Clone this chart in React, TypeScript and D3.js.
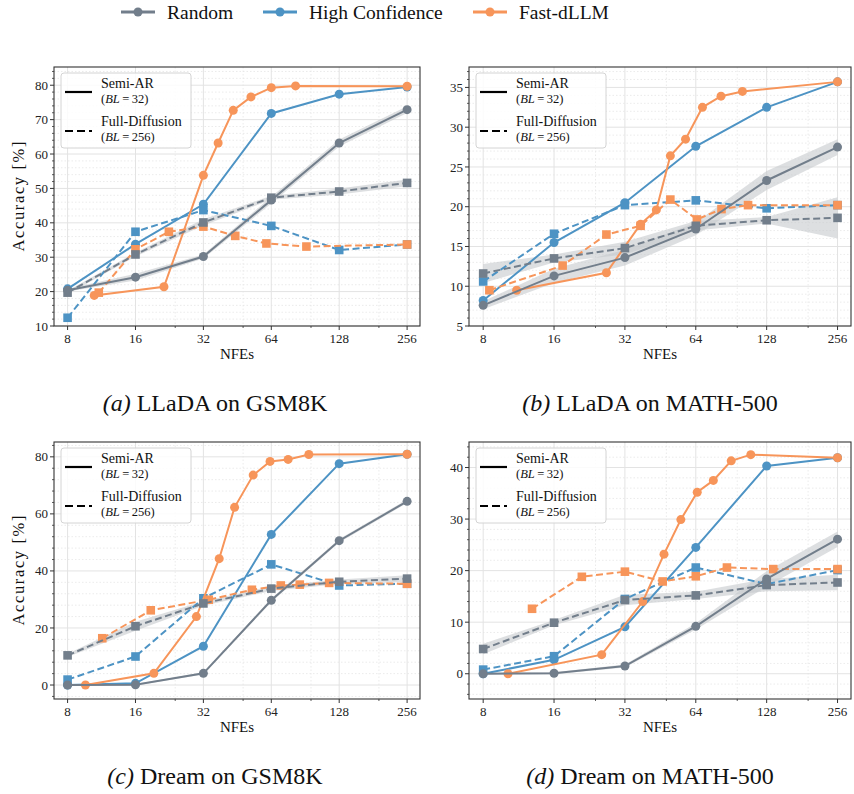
import React from 'react';
import * as d3 from 'd3';

const GRAY = '#727e8b';
const BLUE = '#4d93c4';
const ORANGE = '#f7955a';

const xTicks = [8, 16, 32, 64, 128, 256];
const xMinor = [24, 48, 96, 192];
const methods = ['Random', 'High Confidence', 'Fast-dLLM'];

// (a) LLaDA on GSM8K
const aRandAR = [20.4, 24.2, 30.2, 46.6, 63.2, 72.9];
const aRandARStd = [0.4, 1.0, 0.6, 1.0, 1.0, 1.0];
const aRandFD = [19.7, 30.8, 40.1, 47.3, 49.1, 51.6];
const aRandFDStd = [0.5, 0.6, 0.9, 0.6, 0.9, 1.0];
const aHighAR = [20.8, 33.8, 45.4, 71.8, 77.4, 79.5];
const aHighFD = [12.4, 37.4, 43.7, 39.1, 32.1, 33.7];
const aFastARNfe = [10.5, 21.4, 32, 37.2, 43.4, 52.0, 64, 82.0, 256];
const aFastAR = [18.9, 21.4, 53.8, 63.2, 72.7, 76.6, 79.3, 79.8, 79.7];
const aFastFDNfe = [11.0, 16, 22.5, 32, 44.3, 60.9, 91.6, 256];
const aFastFD = [19.7, 32.3, 37.4, 38.9, 36.2, 34.0, 33.1, 33.7];

// (b) LLaDA on MATH-500
const bRandAR = [7.6, 11.3, 13.6, 17.2, 23.3, 27.5];
const bRandARStd = [0.5, 0.9, 1.0, 0.8, 1.2, 1.0];
const bRandFD = [11.6, 13.5, 14.8, 17.6, 18.3, 18.6];
const bRandFDStd = [1.2, 0.5, 0.8, 0.6, 0.4, 2.6];
const bHighAR = [8.2, 15.5, 20.5, 27.6, 32.5, 35.7];
const bHighFD = [10.6, 16.6, 20.2, 20.8, 19.8, 20.2];
const bFastARNfe = [11.1, 26.7, 37.3, 43.5, 49.9, 57.9, 68.3, 81.9, 101, 256];
const bFastAR = [9.5, 11.7, 17.8, 19.6, 26.4, 28.5, 32.5, 33.9, 34.5, 35.7];
const bFastFDNfe = [8.5, 17.4, 26.7, 37.3, 49.9, 64.7, 82.3, 106.7, 256];
const bFastFD = [9.5, 12.6, 16.5, 17.6, 20.9, 18.4, 19.7, 20.2, 20.2];

// (c) Dream on GSM8K
const cRandAR = [0, 0.1, 4.1, 29.7, 50.6, 64.4];
const cRandARStd = [0.3, 0.3, 0.4, 0.6, 0.6, 0.6];
const cRandFD = [10.4, 20.6, 28.6, 33.8, 36.2, 37.3];
const cRandFDStd = [0.6, 1.6, 0.8, 0.8, 0.8, 1.2];
const cHighAR = [0, 0.6, 13.6, 52.8, 77.6, 80.9];
const cHighFD = [1.9, 10.0, 30.4, 42.3, 34.9, 35.5];
const cFastARNfe = [9.6, 19.3, 29.8, 37.6, 44.0, 53.2, 63.2, 76.0, 93.9, 256];
const cFastAR = [0, 4.1, 24.0, 44.3, 62.3, 73.6, 78.4, 79.1, 80.8, 80.9];
const cFastFDNfe = [11.4, 18.7, 33.8, 52.5, 70.5, 85.6, 115.5, 256];
const cFastFD = [16.4, 26.2, 29.9, 33.4, 34.9, 35.2, 35.8, 35.5];

// (d) Dream on MATH-500
const dRandAR = [0, 0.1, 1.5, 9.2, 18.4, 26.1];
const dRandARStd = [0.2, 0.2, 0.3, 0.6, 1.5, 1.5];
const dRandFD = [4.8, 9.9, 14.3, 15.2, 17.2, 17.7];
const dRandFDStd = [1.0, 0.5, 1.0, 0.7, 1.2, 1.5];
const dHighAR = [0, 2.7, 9.1, 24.5, 40.3, 41.9];
const dHighFD = [0.8, 3.4, 14.5, 20.6, 17.4, 20.1];
const dFastARNfe = [10.2, 25.5, 38.1, 46.9, 55.3, 64.9, 76.0, 90.5, 109.6, 256];
const dFastAR = [0, 3.7, 14.0, 23.2, 29.9, 35.2, 37.5, 41.3, 42.5, 41.9];
const dFastFDNfe = [12.9, 21.0, 32, 46.3, 64, 86.8, 136.5, 256];
const dFastFD = [12.6, 18.8, 19.8, 17.9, 18.9, 20.6, 20.3, 20.3];

type Series = { xs: number[]; ys: number[]; color: string; dashed: boolean; std?: number[] };

const mk = (xs: number[], ys: number[], color: string, dashed: boolean, std?: number[]): Series => ({ xs, ys, color, dashed, std });

const panels = [
  {
    label: '(a)', title: ' LLaDA on GSM8K', left: 54, top: 67, right: 420, bottom: 326,
    yDomain: [10, 85.3], yTicks: [10, 20, 30, 40, 50, 60, 70, 80], yMinor: 2, yLabel: true, capX: 215,
    series: [
      mk(xTicks, aHighAR, BLUE, false), mk(xTicks, aHighFD, BLUE, true),
      mk(aFastARNfe, aFastAR, ORANGE, false), mk(aFastFDNfe, aFastFD, ORANGE, true),
      mk(xTicks, aRandAR, GRAY, false, aRandARStd), mk(xTicks, aRandFD, GRAY, true, aRandFDStd),
    ],
  },
  {
    label: '(b)', title: ' LLaDA on MATH-500', left: 469, top: 67, right: 851, bottom: 326,
    yDomain: [5, 37.57], yTicks: [5, 10, 15, 20, 25, 30, 35], yMinor: 1, yLabel: false, capX: 650,
    series: [
      mk(xTicks, bHighAR, BLUE, false), mk(xTicks, bHighFD, BLUE, true),
      mk(bFastARNfe, bFastAR, ORANGE, false), mk(bFastFDNfe, bFastFD, ORANGE, true),
      mk(xTicks, bRandAR, GRAY, false, bRandARStd), mk(xTicks, bRandFD, GRAY, true, bRandFDStd),
    ],
  },
  {
    label: '(c)', title: ' Dream on GSM8K', left: 54, top: 442, right: 420, bottom: 699,
    yDomain: [-4.9, 85.2], yTicks: [0, 20, 40, 60, 80], yMinor: 4, yLabel: true, capX: 215,
    series: [
      mk(xTicks, cHighAR, BLUE, false), mk(xTicks, cHighFD, BLUE, true),
      mk(cFastARNfe, cFastAR, ORANGE, false), mk(cFastFDNfe, cFastFD, ORANGE, true),
      mk(xTicks, cRandAR, GRAY, false, cRandARStd), mk(xTicks, cRandFD, GRAY, true, cRandFDStd),
    ],
  },
  {
    label: '(d)', title: ' Dream on MATH-500', left: 469, top: 442, right: 851, bottom: 699,
    yDomain: [-4.9, 44.95], yTicks: [0, 10, 20, 30, 40], yMinor: 2, yLabel: false, capX: 650,
    series: [
      mk(xTicks, dHighAR, BLUE, false), mk(xTicks, dHighFD, BLUE, true),
      mk(dFastARNfe, dFastAR, ORANGE, false), mk(dFastFDNfe, dFastFD, ORANGE, true),
      mk(xTicks, dRandAR, GRAY, false, dRandARStd), mk(xTicks, dRandFD, GRAY, true, dRandFDStd),
    ],
  },
];

const SERIF = '"Liberation Serif", "DejaVu Serif", serif';

function BL({ x, y, n }: { x: number; y: number; n: string }) {
  return (
    <text x={x} y={y} fontFamily={SERIF} fontSize={12.5} fill="#111">
      (<tspan fontStyle="italic">BL</tspan>{'\u2009=\u2009'}{n})
    </text>
  );
}

function Panel({ p }: { p: typeof panels[number] }) {
  const x = d3.scaleLog().base(2).domain([8 / Math.pow(2, 0.2), 256 * Math.pow(2, 0.19)]).range([p.left, p.right]);
  const y = d3.scaleLinear().domain(p.yDomain).range([p.bottom, p.top]);
  const minorY = d3.range(Math.ceil(p.yDomain[0] / p.yMinor) * p.yMinor, p.yDomain[1], p.yMinor)
    .filter(v => !p.yTicks.includes(v));
  const line = d3.line<number>();
  const area = d3.area<[number, number, number]>().x(d => x(d[0])).y0(d => y(d[1] - d[2])).y1(d => y(d[1] + d[2]));
  const lx = p.left + 7, ly = p.top + 6;
  return (
    <g>
      <defs>
        <clipPath id={'clip' + p.label}>
          <rect x={p.left} y={p.top} width={p.right - p.left} height={p.bottom - p.top} />
        </clipPath>
      </defs>
      {/* grid */}
      {minorY.map(v => (
        <line key={'my' + v} x1={p.left} x2={p.right} y1={y(v)} y2={y(v)} stroke="#e6e6e6" strokeWidth={0.8} strokeDasharray="1.5,2" />
      ))}
      {xMinor.map(v => (
        <line key={'mx' + v} x1={x(v)} x2={x(v)} y1={p.top} y2={p.bottom} stroke="#e6e6e6" strokeWidth={0.8} strokeDasharray="1.5,2" />
      ))}
      {p.yTicks.map(v => (
        <line key={'gy' + v} x1={p.left} x2={p.right} y1={y(v)} y2={y(v)} stroke="#e3e3e3" strokeWidth={1} />
      ))}
      {xTicks.map(v => (
        <line key={'gx' + v} x1={x(v)} x2={x(v)} y1={p.top} y2={p.bottom} stroke="#e3e3e3" strokeWidth={1} />
      ))}
      <g clipPath={`url(#clip${p.label})`}>
        {p.series.filter(s => s.std).map((s, i) => (
          <path key={'band' + i} d={area(s.xs.map((v, j) => [v, s.ys[j], s.std![j]]))!} fill="#c6c9cd" opacity={0.6} />
        ))}
        {p.series.map((s, i) => (
          <g key={'s' + i}>
            <path d={line(s.xs.map((v, j) => [x(v), y(s.ys[j])]))!} fill="none" stroke={s.color} strokeWidth={2}
              strokeDasharray={s.dashed ? '7,3.5' : undefined} />
            {s.xs.map((v, j) => s.dashed
              ? <rect key={j} x={x(v) - 4.3} y={y(s.ys[j]) - 4.3} width={8.6} height={8.6} fill={s.color} />
              : <circle key={j} cx={x(v)} cy={y(s.ys[j])} r={4.5} fill={s.color} />)}
          </g>
        ))}
      </g>
      {/* axes */}
      <rect x={p.left} y={p.top} width={p.right - p.left} height={p.bottom - p.top} fill="none" stroke="#333" strokeWidth={1.1} />
      {p.yTicks.map(v => (
        <g key={'ty' + v}>
          <line x1={p.left - 4} x2={p.left} y1={y(v)} y2={y(v)} stroke="#333" />
          <text x={p.left - 6} y={y(v)} dy="0.35em" textAnchor="end" fontFamily={SERIF} fontSize={13} fill="#222">{v}</text>
        </g>
      ))}
      {minorY.map(v => (
        <line key={'tmy' + v} x1={p.left - 2} x2={p.left} y1={y(v)} y2={y(v)} stroke="#333" strokeWidth={0.8} />
      ))}
      {xTicks.map(v => (
        <g key={'tx' + v}>
          <line x1={x(v)} x2={x(v)} y1={p.bottom} y2={p.bottom + 4} stroke="#333" />
          <text x={x(v)} y={p.bottom + 17} textAnchor="middle" fontFamily={SERIF} fontSize={13} fill="#222">{v}</text>
        </g>
      ))}
      {xMinor.map(v => (
        <line key={'tmx' + v} x1={x(v)} x2={x(v)} y1={p.bottom} y2={p.bottom + 2} stroke="#333" strokeWidth={0.8} />
      ))}
      <text x={(p.left + p.right) / 2} y={p.bottom + 33} textAnchor="middle" fontFamily={SERIF} fontSize={15} fill="#111">NFEs</text>
      {p.yLabel && (
        <text transform={`translate(18,${(p.top + p.bottom) / 2}) rotate(-90)`} textAnchor="middle" dy="0.35em"
          fontFamily={SERIF} fontSize={16.5} fill="#111" textLength={110} lengthAdjust="spacing">Accuracy [%]</text>
      )}
      {/* inner legend */}
      <rect x={lx} y={ly} width={130} height={75} rx={3} fill="white" fillOpacity={0.85} stroke="#d4d4d4" />
      <line x1={lx + 4} x2={lx + 31} y1={ly + 19} y2={ly + 19} stroke="#000" strokeWidth={2.2} />
      <line x1={lx + 4} x2={lx + 31} y1={ly + 58} y2={ly + 58} stroke="#000" strokeWidth={2.2} strokeDasharray="8,4" />
      <text x={lx + 40} y={ly + 15} fontFamily={SERIF} fontSize={14} fill="#111">Semi-AR</text>
      <BL x={lx + 40} y={ly + 30} n="32" />
      <text x={lx + 40} y={ly + 53} fontFamily={SERIF} fontSize={14} fill="#111">Full-Diffusion</text>
      <BL x={lx + 40} y={ly + 68} n="256" />
      {/* caption */}
      <text x={p.capX} y={p.bottom + 85} textAnchor="middle" fontFamily='"Liberation Serif", serif' fontSize={24} fill="#111">
        <tspan fontStyle="italic">{p.label}</tspan>{p.title}
      </text>
    </g>
  );
}

export default function App() {
  const legendColors = [GRAY, BLUE, ORANGE];
  const legendX = [121, 263, 473];
  return (
    <svg width={854} height={794} style={{ position: 'absolute', left: 0, top: 0, background: 'white' }}>
      <rect width={854} height={794} fill="white" />
      {methods.map((m, i) => (
        <g key={m}>
          <line x1={legendX[i]} x2={legendX[i] + 34} y1={12} y2={12} stroke={legendColors[i]} strokeWidth={3} />
          <circle cx={legendX[i] + 17} cy={12} r={4.5} fill={legendColors[i]} />
          <text x={legendX[i] + 46} y={12} dy="0.35em" fontFamily={SERIF} fontSize={19.5} fill="#111">{m}</text>
        </g>
      ))}
      {panels.map(p => <Panel key={p.label} p={p} />)}
    </svg>
  );
}
